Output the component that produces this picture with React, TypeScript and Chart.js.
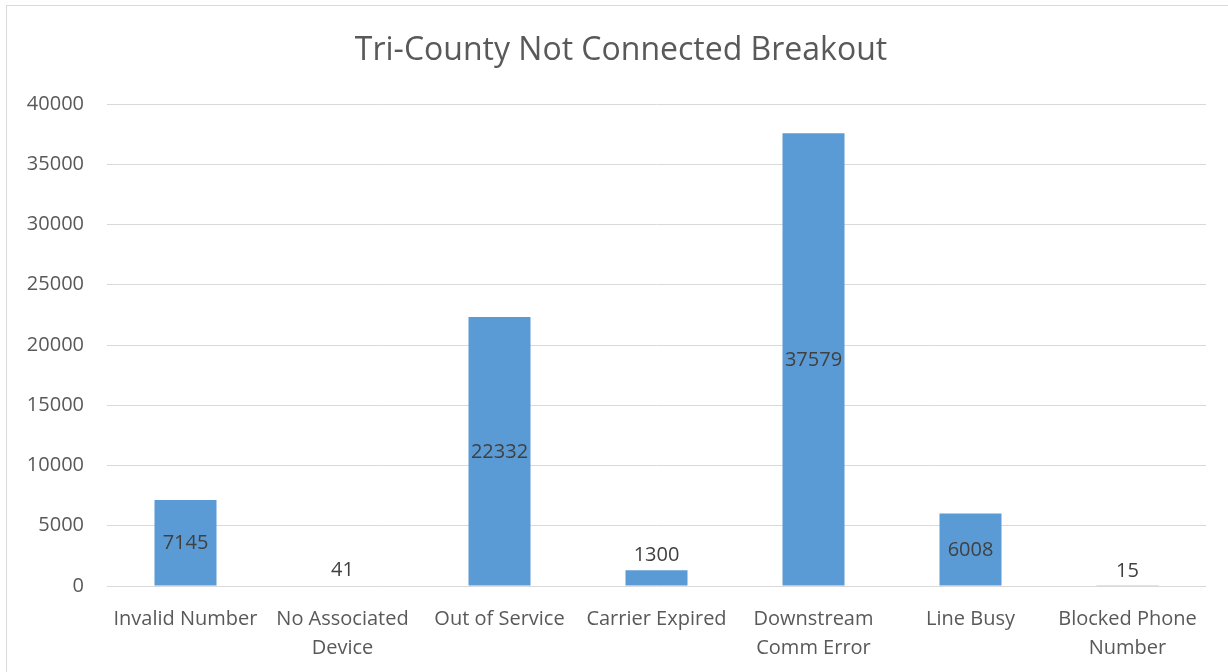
import React, { useEffect, useRef } from "react";
import { Chart, registerables } from "chart.js";

Chart.register(...registerables);

const TITLE = "Tri-County Not Connected Breakout";
const CATEGORIES: string[][] = [
  ["Invalid Number"],
  ["No Associated", "Device"],
  ["Out of Service"],
  ["Carrier Expired"],
  ["Downstream", "Comm Error"],
  ["Line Busy"],
  ["Blocked Phone", "Number"],
];
const VALUES: number[] = [7145, 41, 22332, 1300, 37579, 6008, 15];
const Y_MIN = 0;
const Y_MAX = 40000;
const Y_STEP = 5000;

const FONT = "'Open Sans', 'Noto Sans', sans-serif";

const framePlugin = {
  id: "frame",
  beforeDraw(chart: any) {
    const ctx = chart.ctx;
    ctx.save();
    ctx.fillStyle = "#ffffff";
    ctx.fillRect(0, 0, chart.width, chart.height);
    ctx.strokeStyle = "#D9D9D9";
    ctx.lineWidth = 1;
    ctx.strokeRect(6.5, 5.5, chart.width + 20, chart.height + 20);
    ctx.fillStyle = "#595959";
    ctx.font = `32px ${FONT}`;
    ctx.textAlign = "center";
    ctx.textBaseline = "middle";
    ctx.fillText(TITLE, 621, 51);
    ctx.restore();
  },
};

const labelPlugin = {
  id: "barLabels",
  afterDatasetsDraw(chart: any) {
    const ctx = chart.ctx;
    const meta = chart.getDatasetMeta(0);
    ctx.save();
    ctx.fillStyle = "#404040";
    ctx.font = `20px ${FONT}`;
    ctx.textAlign = "center";
    ctx.textBaseline = "middle";
    meta.data.forEach((bar: any, i: number) => {
      const v = chart.data.datasets[0].data[i];
      const h = bar.base - bar.y;
      let y = (bar.y + bar.base) / 2 + 1;
      if (h < 30) y = bar.y - 15;
      ctx.fillText(String(v), bar.x, y);
    });
    ctx.restore();
  },
};

export default function App() {
  const ref = useRef<HTMLCanvasElement | null>(null);
  useEffect(() => {
    document.body.style.margin = "0";
    if (!ref.current) return;
    const chart = new Chart(ref.current, {
      type: "bar",
      data: {
        labels: CATEGORIES,
        datasets: [
          {
            data: VALUES,
            backgroundColor: "#5B9BD5",
            borderWidth: 0,
            categoryPercentage: 1,
            barPercentage: 0.395,
          },
        ],
      },
      options: {
        responsive: false,
        animation: false,
        devicePixelRatio: 1,
        layout: { padding: { top: 104, right: 22, left: 0, bottom: 0 } },
        plugins: {
          legend: { display: false },
          title: { display: false },
          tooltip: { enabled: false },
        },
        scales: {
          x: {
            grid: { display: false, drawTicks: false },
            border: { display: false },
            ticks: {
              color: "#595959",
              font: { family: FONT, size: 20, lineHeight: 1.45 },
              padding: 19,
              maxRotation: 0,
              autoSkip: false,
            },
            afterFit(scale: any) {
              scale.height = 86;
            },
          },
          y: {
            min: Y_MIN,
            max: Y_MAX,
            grid: { color: "#D9D9D9", lineWidth: 1, drawTicks: false },
            border: { display: false },
            ticks: {
              stepSize: Y_STEP,
              color: "#595959",
              font: { family: FONT, size: 20 },
              padding: 23,
              callback: (v: any) => String(v),
            },
            afterFit(scale: any) {
              scale.width = 107;
            },
          },
        },
      },
      plugins: [framePlugin, labelPlugin],
    });
    return () => chart.destroy();
  }, []);
  return <canvas ref={ref} width={1228} height={672} style={{ display: "block" }} />;
}
